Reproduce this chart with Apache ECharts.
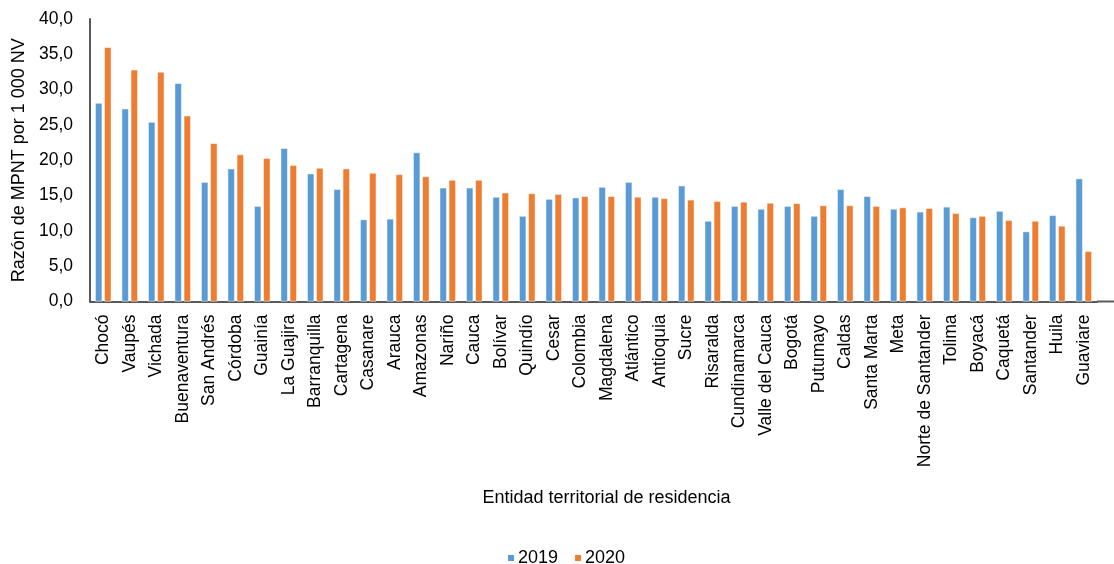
<!DOCTYPE html>
<html>
<head>
<meta charset="utf-8">
<script src="https://cdn.jsdelivr.net/npm/echarts@6/dist/echarts.min.js"></script>
<style>html,body{margin:0;padding:0;background:#fff}#c{width:1114px;height:564px}</style>
</head>
<body>
<div id="c"></div>
<script>
var categories = ["Chocó","Vaupés","Vichada","Buenaventura","San Andrés","Córdoba","Guainía","La Guajira","Barranquilla","Cartagena","Casanare","Arauca","Amazonas","Nariño","Cauca","Bolívar","Quindío","Cesar","Colombia","Magdalena","Atlántico","Antioquia","Sucre","Risaralda","Cundinamarca","Valle del Cauca","Bogotá","Putumayo","Caldas","Santa Marta","Meta","Norte de Santander","Tolima","Boyacá","Caquetá","Santander","Huila","Guaviare"];
var values2019 = [28.1,27.3,25.4,30.9,16.9,18.8,13.5,21.7,18.1,15.9,11.6,11.7,21.1,16.1,16.1,14.8,12.1,14.5,14.7,16.2,16.9,14.8,16.4,11.4,13.5,13.1,13.5,12.1,15.9,14.9,13.1,12.7,13.4,11.9,12.8,9.9,12.2,17.4];
var values2020 = [36.0,32.8,32.5,26.3,22.4,20.8,20.3,19.3,18.9,18.8,18.2,18.0,17.7,17.2,17.2,15.4,15.3,15.2,14.9,14.9,14.8,14.6,14.4,14.2,14.1,13.95,13.9,13.6,13.6,13.5,13.3,13.2,12.5,12.1,11.5,11.4,10.7,7.1];
var seriesNames = ["2019","2020"];

var chart = echarts.init(document.getElementById('c'), null, {renderer:'canvas'});
var font = '"Liberation Sans", Arial, sans-serif';
chart.setOption({
  animation:false,
  textStyle:{fontFamily:font},
  grid:{left:90,right:17,top:19,bottom:262.5,containLabel:false,outerBoundsMode:'none'},
  legend:{
    left:501, top:544,
    itemWidth:8,itemHeight:8,itemGap:15,
    icon:'rect',
    textStyle:{fontSize:18,color:'#000',fontFamily:font,padding:[0,0,0,-2]},
    data:seriesNames
  },
  graphic:[{
    type:'line', shape:{x1:1097,y1:301.5,x2:1114,y2:301.5},
    style:{stroke:'#595959',lineWidth:2}, silent:true
  }],
  xAxis:{
    type:'category',
    data:categories,
    axisLine:{lineStyle:{color:'#595959',width:2}},
    axisTick:{show:false},
    axisLabel:{rotate:90,interval:0,fontSize:17.5,color:'#000',margin:13,fontFamily:font},
    name:'Entidad territorial de residencia',
    nameLocation:'middle',
    nameGap:188,
    nameTextStyle:{fontSize:18,color:'#000',fontFamily:font,padding:[0,0,0,26]}
  },
  yAxis:{
    type:'value',
    min:0,max:40,interval:5,
    axisLine:{show:true,lineStyle:{color:'#595959',width:2}},
    axisTick:{show:false},
    splitLine:{show:false},
    axisLabel:{fontSize:17.5,color:'#000',margin:17,fontFamily:font,
      formatter:function(v){return v.toFixed(1).replace('.',',');}},
    name:'Razón de MPNT por 1 000 NV',
    nameLocation:'middle',
    nameGap:60,
    nameTextStyle:{fontSize:18,color:'#000',fontFamily:font}
  },
  series:[
    {name:seriesNames[0],type:'bar',data:values2019,barWidth:7,barGap:'30%',
     itemStyle:{color:'#5B9BD5',borderColor:'#fff',borderWidth:0.5}},
    {name:seriesNames[1],type:'bar',data:values2020,barWidth:7,barGap:'30%',
     itemStyle:{color:'#ED7D31',borderColor:'#fff',borderWidth:0.5}}
  ]
});
</script>
</body>
</html>
